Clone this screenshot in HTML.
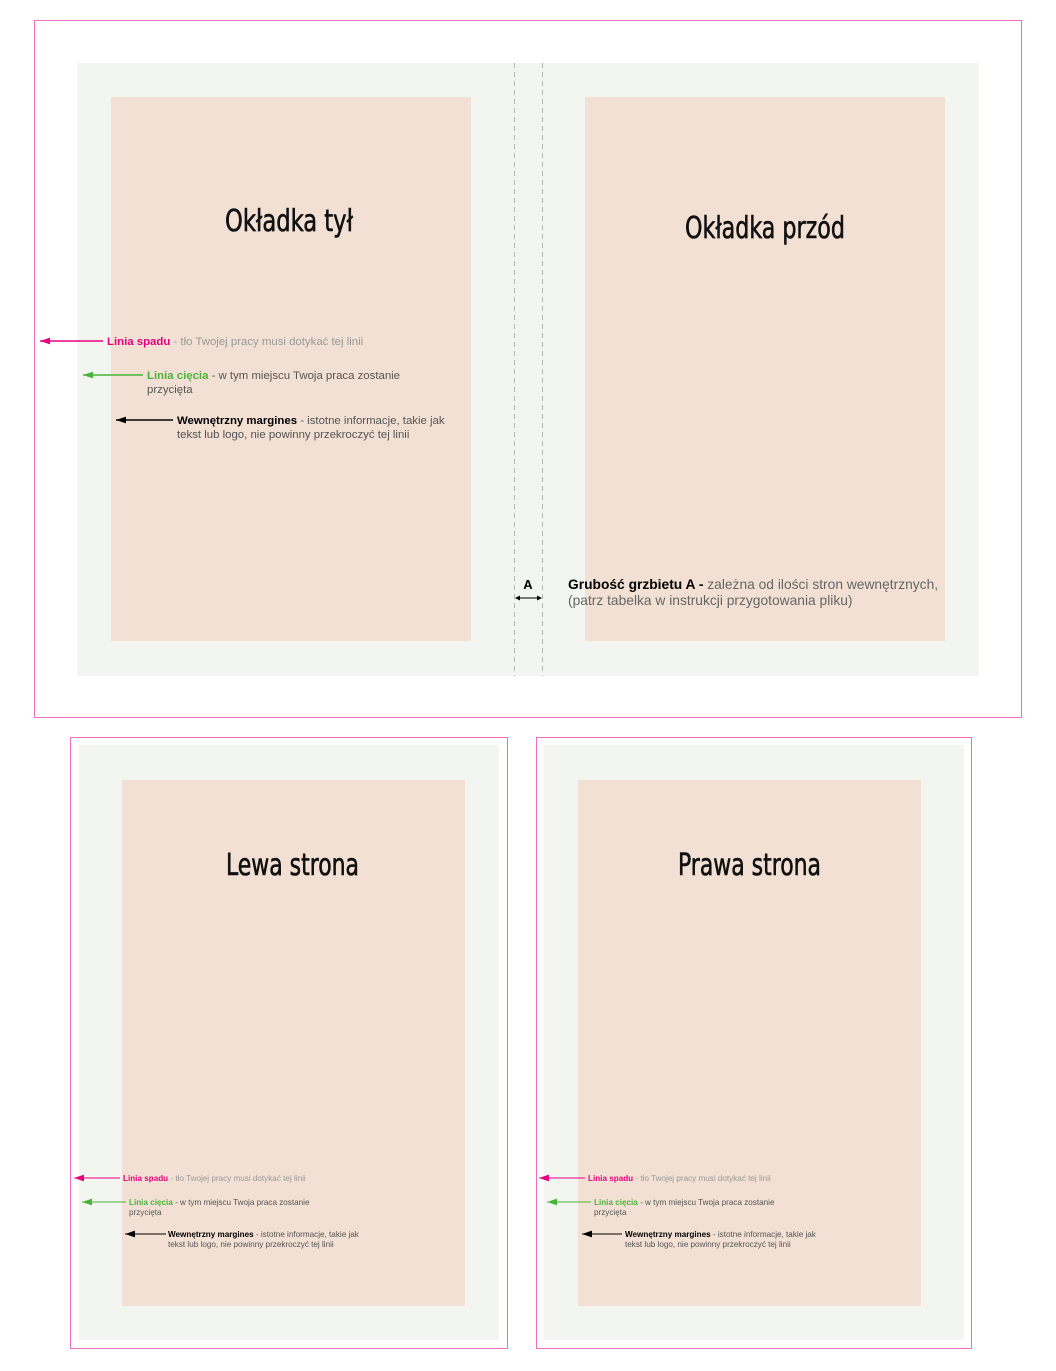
<!DOCTYPE html>
<html><head><meta charset="utf-8"><style>
html,body{margin:0;padding:0;background:#fff}
svg{display:block}
.t{font-family:"DejaVu Sans Condensed","Liberation Sans",sans-serif;font-size:30px;fill:#111;stroke:#111;stroke-width:0.6;text-anchor:start}
.a{font-family:"Liberation Sans",sans-serif}
</style></head><body>
<svg width="1056" height="1371" xmlns="http://www.w3.org/2000/svg">
<defs>
<marker id="mp" markerWidth="10" markerHeight="8" refX="0" refY="4" orient="auto" markerUnits="userSpaceOnUse"><path d="M0,4 L12,0 L12,8 z" fill="#e8007e"/></marker>
<marker id="mg" markerWidth="10" markerHeight="8" refX="0" refY="4" orient="auto" markerUnits="userSpaceOnUse"><path d="M0,4 L12,0 L12,8 z" fill="#4bb33a"/></marker>
<marker id="mk" markerWidth="10" markerHeight="8" refX="0" refY="4" orient="auto" markerUnits="userSpaceOnUse"><path d="M0,4 L12,0 L12,8 z" fill="#000"/></marker>
</defs>
<rect x="34.5" y="20.5" width="987" height="697" fill="#fff" stroke="#ee6ec0" stroke-width="1"/>
<rect x="77" y="63" width="902" height="613" fill="#f3f6f0"/>
<rect x="111" y="97" width="360" height="544" fill="#f2e0d4"/>
<rect x="585" y="97" width="360" height="544" fill="#f2e0d4"/>
<line x1="514.5" y1="63" x2="514.5" y2="676" stroke="#b5b5b5" stroke-dasharray="5,4"/>
<line x1="542.5" y1="63" x2="542.5" y2="676" stroke="#b5b5b5" stroke-dasharray="5,4"/>
<text class="t" x="225" y="231" textLength="128" lengthAdjust="spacingAndGlyphs">Okładka tył</text>
<text class="t" x="685" y="238" textLength="160" lengthAdjust="spacingAndGlyphs">Okładka przód</text>

<line x1="40" y1="341" x2="103" y2="341" stroke="#e8007e" stroke-width="1.5" marker-start="url(#mp)"/>
<text class="a" x="107" y="345" font-size="11.4"><tspan fill="#e8007e" font-weight="bold">Linia spadu</tspan><tspan fill="#999"> - tło Twojej pracy musi dotykać tej linii</tspan></text>
<line x1="83" y1="375" x2="143" y2="375" stroke="#4bb33a" stroke-width="1.5" marker-start="url(#mg)"/>
<text class="a" x="147" y="379" font-size="11.4"><tspan fill="#4bb33a" font-weight="bold">Linia cięcia</tspan><tspan fill="#555"> - w tym miejscu Twoja praca zostanie</tspan></text>
<text class="a" x="147" y="393" font-size="11.4" fill="#555">przycięta</text>
<line x1="116" y1="420" x2="173" y2="420" stroke="#000" stroke-width="1.5" marker-start="url(#mk)"/>
<text class="a" x="177" y="424" font-size="11.4"><tspan fill="#000" font-weight="bold">Wewnętrzny margines</tspan><tspan fill="#555"> - istotne informacje, takie jak</tspan></text>
<text class="a" x="177" y="438" font-size="11.4" fill="#555">tekst lub logo, nie powinny przekroczyć tej linii</text>

<text class="a" x="528" y="589" font-size="13" font-weight="bold" text-anchor="middle">A</text>
<line x1="518" y1="598" x2="539" y2="598" stroke="#000" stroke-width="1"/>
<path d="M515,598 l5,-2.5 v5 z M542,598 l-5,-2.5 v5 z" fill="#000"/>
<text class="a" x="568" y="589" font-size="13.8"><tspan font-weight="bold" fill="#000">Grubość grzbietu A - </tspan><tspan fill="#666">zależna od ilości stron wewnętrznych,</tspan></text>
<text class="a" x="568" y="605" font-size="13.8" fill="#666">(patrz tabelka w instrukcji przygotowania pliku)</text>

<rect x="70.5" y="737.5" width="437" height="611" fill="#fff" stroke="#ee6ec0"/>
<rect x="79" y="745" width="420" height="595" fill="#f3f6f0"/>
<rect x="122" y="780" width="343" height="526" fill="#f2e0d4"/>
<text class="t" x="226" y="875" textLength="133" lengthAdjust="spacingAndGlyphs">Lewa strona</text>
<rect x="536.5" y="737.5" width="435" height="611" fill="#fff" stroke="#ee6ec0"/>
<rect x="544" y="745" width="420" height="595" fill="#f3f6f0"/>
<rect x="578" y="780" width="343" height="526" fill="#f2e0d4"/>
<text class="t" x="678" y="875" textLength="143" lengthAdjust="spacingAndGlyphs">Prawa strona</text>

<g id="ann">
<line x1="74" y1="1178" x2="120" y2="1178" stroke="#e8007e" stroke-width="1" marker-start="url(#mp)"/>
<text class="a" x="123" y="1181" font-size="8.15"><tspan fill="#e8007e" font-weight="bold">Linia spadu</tspan><tspan fill="#999"> - tło Twojej pracy musi dotykać tej linii</tspan></text>
<line x1="82" y1="1202" x2="126" y2="1202" stroke="#4bb33a" stroke-width="1" marker-start="url(#mg)"/>
<text class="a" x="129" y="1205" font-size="8.15"><tspan fill="#4bb33a" font-weight="bold">Linia cięcia</tspan><tspan fill="#555"> - w tym miejscu Twoja praca zostanie</tspan></text>
<text class="a" x="129" y="1215" font-size="8.15" fill="#555">przycięta</text>
</g>
<use href="#ann" x="465" y="0"/>
<line x1="125" y1="1234" x2="166" y2="1234" stroke="#000" stroke-width="1" marker-start="url(#mk)"/>
<text class="a" x="168" y="1237" font-size="8.15"><tspan fill="#000" font-weight="bold">Wewnętrzny margines</tspan><tspan fill="#555"> - istotne informacje, takie jak</tspan></text>
<text class="a" x="168" y="1247" font-size="8.15" fill="#555">tekst lub logo, nie powinny przekroczyć tej linii</text>
<line x1="582" y1="1234" x2="622" y2="1234" stroke="#000" stroke-width="1" marker-start="url(#mk)"/>
<text class="a" x="625" y="1237" font-size="8.15"><tspan fill="#000" font-weight="bold">Wewnętrzny margines</tspan><tspan fill="#555"> - istotne informacje, takie jak</tspan></text>
<text class="a" x="625" y="1247" font-size="8.15" fill="#555">tekst lub logo, nie powinny przekroczyć tej linii</text>
</svg>
</body></html>
